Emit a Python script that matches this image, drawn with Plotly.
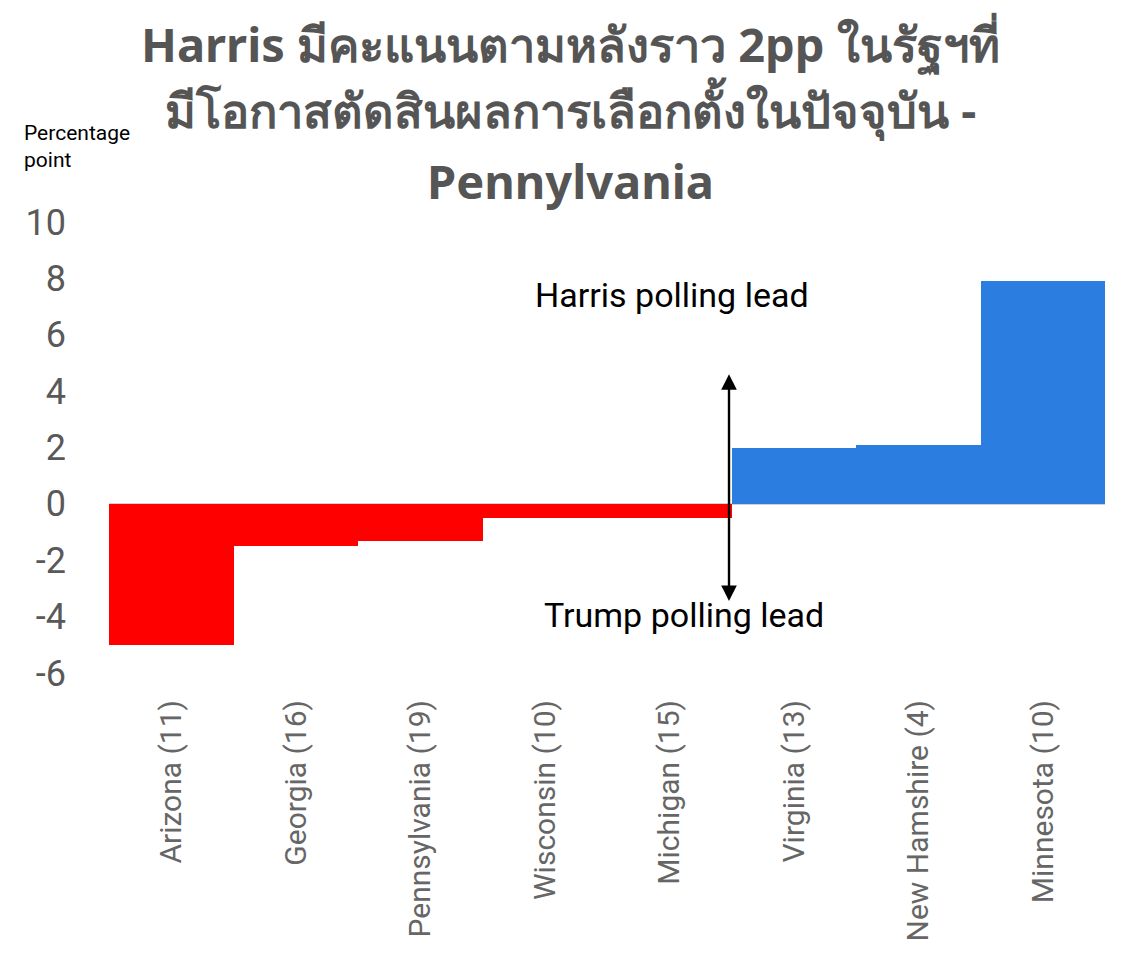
import plotly.graph_objects as go

# Swing states with electoral votes, and polling lead (percentage points, + = Harris)
states = ["Arizona (11)", "Georgia (16)", "Pennsylvania (19)", "Wisconsin (10)",
          "Michigan (15)", "Virginia (13)", "New Hamshire (4)", "Minnesota (10)"]
lead = [-5.0, -1.5, -1.3, -0.5, -0.5, 2.0, 2.1, 7.9]

y_ticks = [-6, -4, -2, 0, 2, 4, 6, 8, 10]
y_tick_labels = ["-6", "-4", "-2", "0", "2", "4", "6", "8", "10"]

title_lines = ["Harris มีคะแนนตามหลังราว 2pp ในรัฐฯที่",
               "มีโอกาสตัดสินผลการเลือกตั้งในปัจจุบัน -",
               "Pennylvania"]

RED = "#FF0000"
BLUE = "#2B7DE0"
GREY_TEXT = "#595959"

colors = [RED if v < 0 else BLUE for v in lead]

# Plot-area geometry in pixels (used to place page-level texts)
W, H = 1125, 965
M_L, M_R, M_T, M_B = 109, 20, 222, 292
PW, PH = W - M_L - M_R, H - M_T - M_B


def px_x(x):
    return (x - M_L) / PW


def px_y(y):
    return (H - M_B - y) / PH


fig = go.Figure(
    go.Bar(
        x=states,
        y=lead,
        marker=dict(color=colors, line=dict(width=0)),
        hoverinfo="x+y",
    )
)

fig.update_layout(
    width=W,
    height=H,
    paper_bgcolor="white",
    plot_bgcolor="white",
    showlegend=False,
    bargap=0,
    margin=dict(l=M_L, r=M_R, t=M_T, b=M_B),
    xaxis=dict(
        tickangle=-90,
        tickfont=dict(family="Roboto, sans-serif", size=30, color="#666666"),
        showgrid=False,
        showline=False,
        ticks="",
        ticklabelstandoff=20,
    ),
    yaxis=dict(
        range=[-6, 10],
        tickvals=y_ticks,
        ticktext=y_tick_labels,
        tickfont=dict(family="Roboto, sans-serif", size=36, color=GREY_TEXT),
        showgrid=False,
        showline=False,
        ticks="",
        zeroline=True,
        zerolinecolor="#D0D0D0",
        zerolinewidth=2,
        ticklabelstandoff=42,
    ),
)

# Chart title, one annotation per line for even spacing
for line, y_px in zip(title_lines, [45, 109, 181]):
    fig.add_annotation(
        x=px_x(570), y=px_y(y_px), xref="paper", yref="paper",
        xanchor="center", yanchor="middle",
        text=f"<b>{line}</b>", showarrow=False,
        font=dict(family="Noto Sans, Roboto, sans-serif", size=47, color="#555555"),
    )

# Double-headed arrow separating the two sides
fig.add_annotation(
    x=4.48, y=4.6, ax=4.48, ay=-3.5,
    xref="x", yref="y", axref="x", ayref="y",
    text="", showarrow=True,
    arrowhead=2, startarrowhead=2, arrowside="end+start",
    arrowsize=1.3, startarrowsize=1.3, arrowwidth=2.4, arrowcolor="black",
)

fig.add_annotation(
    x=4.02, y=7.4, xref="x", yref="y",
    text="Harris polling lead", showarrow=False,
    font=dict(family="Roboto, sans-serif", size=34, color="black"),
)
fig.add_annotation(
    x=4.12, y=-3.95, xref="x", yref="y",
    text="Trump polling lead", showarrow=False,
    font=dict(family="Roboto, sans-serif", size=34, color="black"),
)

# Axis unit note
fig.add_annotation(
    x=px_x(22), y=px_y(146), xref="paper", yref="paper",
    xanchor="left", yanchor="middle",
    text="Percentage<br>point", showarrow=False, align="left",
    font=dict(family="Roboto, sans-serif", size=21, color="black"),
)

fig.write_html("out.html")
